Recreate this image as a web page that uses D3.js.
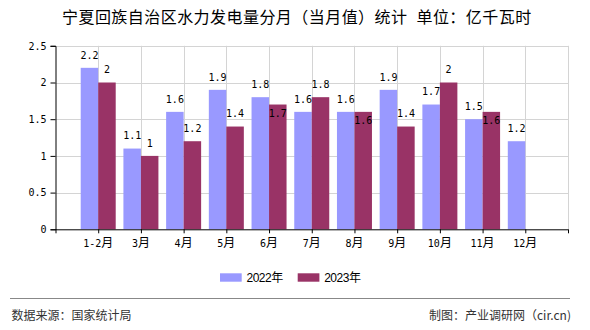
<!DOCTYPE html>
<html><head><meta charset="utf-8">
<script src="https://cdn.jsdelivr.net/npm/d3@7"></script>
<style>
html,body{margin:0;padding:0;background:#fff;}
svg{display:block;}
</style>
</head><body>
<script>
const titleParts = ["宁夏回族自治区水力发电量分月（当月值）统计","单位：亿千瓦时"];
const categories = ["1-2月","3月","4月","5月","6月","7月","8月","9月","10月","11月","12月"];
const seriesNames = ["2022年","2023年"];
const values2022 = [2.2,1.1,1.6,1.9,1.8,1.6,1.6,1.9,1.7,1.5,1.2];
const values2023 = [2,1,1.2,1.4,1.7,1.8,1.6,1.4,2,1.6,null];
const yTicks = [0,0.5,1,1.5,2,2.5];
const colors = ["#9999FF","#993366"];
const sourceText = "数据来源：国家统计局";
const creditText = "制图：产业调研网（cir.cn)";

const W=590,H=330;
const svg=d3.select("body").append("svg").attr("width",W).attr("height",H);
const monoFont="'DejaVu Sans Mono', monospace";
const cjkFont="'Noto Sans CJK SC','Noto Sans',sans-serif";

const x=d3.scaleLinear().domain([0,categories.length+1]).range([55.5,568]);
const y=d3.scaleLinear().domain([0,2.5]).range([229.3,45.8]);
const bw=17.5;

// title
const tt=svg.append("text").attr("x",62).attr("y",23)
  .attr("font-family",cjkFont).attr("font-size",16).attr("fill","#000")
  .attr("letter-spacing",0.45);
tt.append("tspan").text(titleParts[0]);
tt.append("tspan").attr("dx",9).text(titleParts[1]);

// grid
const g=svg.append("g");
g.selectAll(".hg").data(yTicks.filter(d=>d>0)).join("line")
  .attr("x1",x(0)).attr("x2",x(categories.length+1))
  .attr("y1",d=>Math.round(y(d))+0.5).attr("y2",d=>Math.round(y(d))+0.5)
  .attr("stroke","#d4d4d4");
g.selectAll(".vg").data(d3.range(1,categories.length+2)).join("line")
  .attr("x1",d=>Math.round(x(d))+0.5).attr("x2",d=>Math.round(x(d))+0.5)
  .attr("y1",y(2.5)).attr("y2",y(0))
  .attr("stroke","#d4d4d4");

// bars
const series=[values2022,values2023];
series.forEach((vals,si)=>{
  svg.append("g").selectAll("rect").data(vals.map((v,i)=>({v,i})).filter(d=>d.v!=null)).join("rect")
    .attr("x",d=>x(d.i+1)-(si===0?bw:0))
    .attr("width",bw)
    .attr("y",d=>y(d.v))
    .attr("height",d=>y(0)-y(d.v))
    .attr("fill",colors[si]);
});

// value labels with simple collision handling
const charW=6;
function lblW(v){return String(v).length*charW;}
series.forEach((vals,si)=>{
  vals.forEach((v,i)=>{
    if(v==null) return;
    const cx=x(i+1)+(si===0?-bw/2:bw/2);
    let cy=y(v)-13;
    if(si===1){
      const pv=values2022[i];
      const pcy=y(pv)-13;
      const pcx=x(i+1)-bw/2;
      const hOverlap=(lblW(pv)/2+lblW(v)/2)>(cx-pcx);
      if(hOverlap && Math.abs(pcy-cy)<11) cy=y(v)+8.5;
    }
    svg.append("text").attr("x",cx).attr("y",cy+3.7).attr("text-anchor","middle")
      .attr("font-family",monoFont).attr("font-size",10).attr("fill","#000").text(v);
  });
});

// axes
const yAxis=d3.axisLeft(y).tickValues(yTicks).tickSize(5).tickPadding(4).tickFormat(d=>d);
const ya=svg.append("g").attr("transform",`translate(${x(0)},0)`).call(yAxis);
ya.select(".domain").attr("stroke","#000");
ya.selectAll(".tick line").attr("stroke","#000");
ya.selectAll("text").attr("font-family",monoFont).attr("font-size",10).attr("fill","#000");

const xAxis=d3.axisBottom(x).tickValues(d3.range(0,categories.length+2)).tickSize(4).tickFormat("");
const xa=svg.append("g").attr("transform",`translate(0,${y(0)})`).call(xAxis);
xa.select(".domain").attr("stroke","#000").attr("d",`M${x(0)},0.5H${x(categories.length+1)}`);
xa.selectAll(".tick line").attr("stroke","#000");

// category labels
categories.forEach((c,i)=>{
  const t=svg.append("text").attr("x",x(i+1)).attr("y",247).attr("text-anchor","middle").attr("fill","#000");
  const m=c.match(/^([^月]*)(月)$/);
  t.append("tspan").attr("font-family",monoFont).attr("font-size",10).text(m[1]);
  t.append("tspan").attr("font-family",cjkFont).attr("font-size",12).text(m[2]);
});

// legend
const legX=[220,297.7];
seriesNames.forEach((n,i)=>{
  svg.append("rect").attr("x",legX[i]).attr("y",273.3).attr("width",21.7).attr("height",8.4).attr("fill",colors[i]);
  svg.append("text").attr("x",legX[i]+26.5).attr("y",281.5)
    .attr("font-family","'Liberation Sans','Noto Sans CJK SC',sans-serif").attr("font-size",12)
    .attr("letter-spacing",-0.5).attr("fill","#000").text(n);
});

// footer
svg.append("line").attr("x1",10).attr("x2",570).attr("y1",298.5).attr("y2",298.5).attr("stroke","#888").attr("stroke-width",1);
svg.append("text").attr("x",11.5).attr("y",320).attr("font-family",cjkFont).attr("font-size",12).attr("fill","#333").text(sourceText);
svg.append("text").attr("x",571).attr("y",320).attr("text-anchor","end").attr("font-family",cjkFont).attr("font-size",12).attr("fill","#333").text(creditText);
</script>
</body></html>
